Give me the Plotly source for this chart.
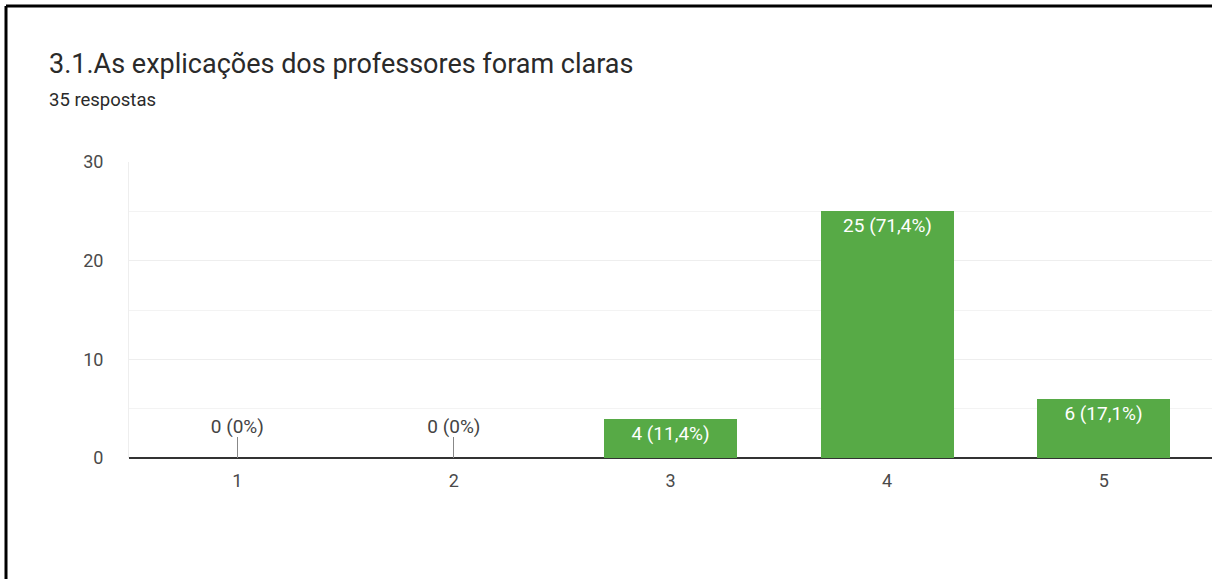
import plotly.graph_objects as go

categories = ["1", "2", "3", "4", "5"]
counts = [0, 0, 4, 25, 6]
labels = ["0 (0%)", "0 (0%)", "4 (11,4%)", "25 (71,4%)", "6 (17,1%)"]
title_text = "3.1.As explicações dos professores foram claras"
subtitle_text = "35 respostas"
y_ticks = [0, 10, 20, 30]

W, H = 1212, 579
L, R, T, B = 129, 0, 162, 121
pw, ph = W - L - R, H - T - B

def px(x):
    return (x - L) / pw

def py(y):
    return (H - B - y) / ph

GREEN = "#57aa46"
FONT = "Roboto, Arial, sans-serif"

nonzero_text = [t if c > 0 else "" for c, t in zip(counts, labels)]
zero_x = [k for k, c in zip(categories, counts) if c == 0]
zero_text = [t for c, t in zip(counts, labels) if c == 0]
stub = 2.1

fig = go.Figure()
fig.add_trace(go.Bar(
    x=categories, y=counts, marker=dict(color=GREEN, line=dict(width=0)),
    width=0.615, text=nonzero_text, textposition="inside",
    insidetextanchor="end", textangle=0,
    textfont=dict(color="white", size=19, family=FONT),
    error_y=dict(type="data", symmetric=False,
                 array=[stub if c == 0 else 0 for c in counts],
                 arrayminus=[0] * len(counts),
                 color="#888888", thickness=1, width=0),
    hoverinfo="skip", cliponaxis=False,
))
fig.add_trace(go.Scatter(
    x=zero_x, y=[stub] * len(zero_x), mode="text", text=zero_text,
    textposition="top center",
    textfont=dict(color="#444444", size=19, family=FONT),
    hoverinfo="skip", cliponaxis=False,
))

fig.update_layout(
    width=W, height=H, margin=dict(l=L, r=R, t=T, b=B, pad=0),
    paper_bgcolor="white", plot_bgcolor="white", showlegend=False,
    font=dict(family=FONT, color="#444444"),
    uniformtext=dict(minsize=19, mode="show"),
    xaxis=dict(type="category", range=[-0.5, 4.5], showgrid=False,
               showline=False, zeroline=False, ticks="",
               tickfont=dict(size=18, color="#4a4a4a"), ticklabelstandoff=10),
    yaxis=dict(range=[0, 30], tickvals=y_ticks, showgrid=True,
               gridcolor="#eeeeee", gridwidth=1, zeroline=True,
               zerolinecolor="#333333", zerolinewidth=1.5,
               showline=True, linecolor="#eeeeee", linewidth=1,
               minor=dict(dtick=5, showgrid=True, gridcolor="#f3f3f3"),
               ticks="", tickfont=dict(size=18, color="#4a4a4a"),
               ticklabelstandoff=21),
    bargap=0,
    annotations=[
        dict(text=title_text, x=px(47), y=py(64), xref="paper", yref="paper",
             xanchor="left", yanchor="middle", showarrow=False,
             font=dict(size=27, color="#2a2a2a", family=FONT)),
        dict(text=subtitle_text, x=px(47), y=py(100), xref="paper", yref="paper",
             xanchor="left", yanchor="middle", showarrow=False,
             font=dict(size=18.5, color="#2a2a2a", family=FONT)),
    ],
    shapes=[
        dict(type="line", xref="paper", yref="paper", x0=px(6), x1=px(1212),
             y0=py(6), y1=py(6), line=dict(color="black", width=3)),
        dict(type="line", xref="paper", yref="paper", x0=px(6), x1=px(6),
             y0=py(6), y1=py(579), line=dict(color="black", width=3)),
    ],
)

fig.write_html("out.html")
